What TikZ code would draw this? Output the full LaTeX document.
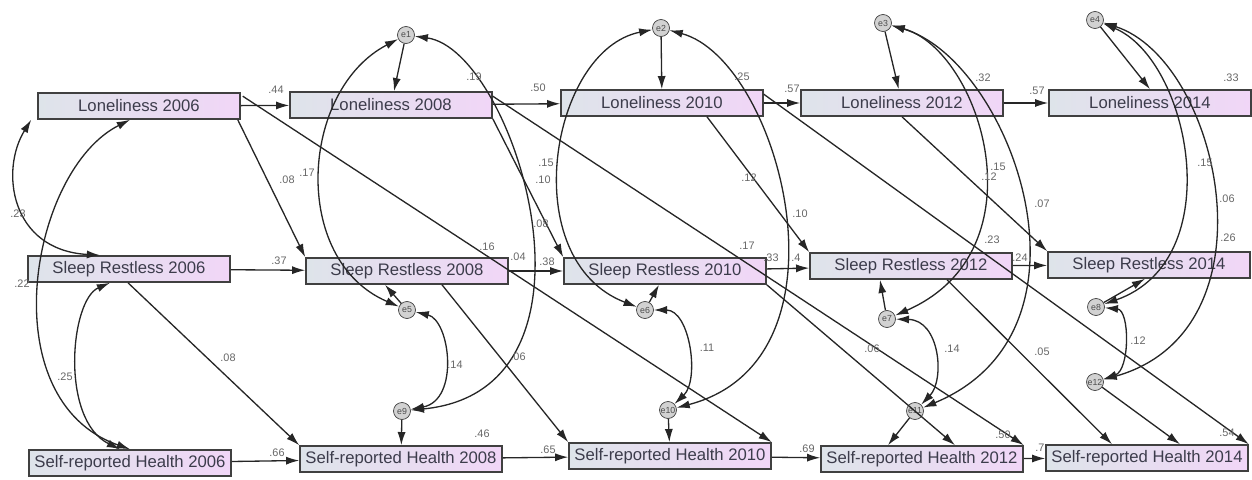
\documentclass[tikz,border=0pt]{standalone}
\usepackage{fontspec}
\setmainfont{Liberation Sans}
\usetikzlibrary{arrows.meta,calc}

\definecolor{boxL}{RGB}{222,228,234}
\definecolor{boxR}{RGB}{241,214,247}
\definecolor{txt}{RGB}{60,60,75}

\tikzset{
  var/.style={draw=black!75, line width=0.9pt, left color=boxL, right color=boxR,
    minimum width=4.04cm, minimum height=0.52cm, inner sep=0pt, text=txt,
    font=\fontsize{9.5}{11}\selectfont},
  err/.style={circle, draw=black!75, fill=gray!35, minimum size=0.34cm, inner sep=0pt,
    font=\fontsize{5}{5}\selectfont, text=black!70},
  reg/.style={-{Latex[length=7.5pt,width=4.6pt]}, line width=0.75pt, draw=black!85},
  cov/.style={{Latex[length=7.5pt,width=4.6pt]}-{Latex[length=7.5pt,width=4.6pt]}, line width=0.75pt, draw=black!85},
  est/.style={font=\fontsize{6.2}{7}\selectfont, text=black!60, inner sep=0pt}
}

\begin{document}
\begin{tikzpicture}[x=0.02cm,y=-0.02cm]
\useasboundingbox (0,0) rectangle (1252,480);

% observed variables
\node[var] (L06) at (139,106) {Loneliness 2006};
\node[var] (L08) at (391,105) {Loneliness 2008};
\node[var] (L10) at (662,103) {Loneliness 2010};
\node[var] (L12) at (902,103) {Loneliness 2012};
\node[var] (L14) at (1150,103) {Loneliness 2014};
\node[var] (S06) at (129,269) {Sleep Restless 2006};
\node[var] (S08) at (407,271) {Sleep Restless 2008};
\node[var] (S10) at (665,271) {Sleep Restless 2010};
\node[var] (S12) at (911,266) {Sleep Restless 2012};
\node[var] (S14) at (1149,265) {Sleep Restless 2014};
\node[var] (H06) at (130,463) {Self-reported Health 2006};
\node[var] (H08) at (401,459) {Self-reported Health 2008};
\node[var] (H10) at (670,456) {Self-reported Health 2010};
\node[var] (H12) at (922,459) {Self-reported Health 2012};
\node[var] (H14) at (1147,458) {Self-reported Health 2014};

% error terms
\node[err] (e1) at (406,35) {e1};
\node[err] (e2) at (661,28) {e2};
\node[err] (e3) at (883,23) {e3};
\node[err] (e4) at (1095,20) {e4};
\node[err] (e5) at (407,310) {e5};
\node[err] (e6) at (645,310) {e6};
\node[err] (e7) at (887,319) {e7};
\node[err] (e8) at (1096,307) {e8};
\node[err] (e9) at (402,411) {e9};
\node[err] (e10) at (668,410) {e10};
\node[err] (e11) at (915,411) {e11};
\node[err] (e12) at (1095,382) {e12};

% stability paths
\draw[reg] (L06) -- (L08);
\draw[reg] (L08) -- (L10);
\draw[reg] (L10) -- (L12);
\draw[reg] (L12) -- (L14);
\draw[reg] (S06) -- (S08);
\draw[reg] (S08) -- (S10);
\draw[reg] (S10) -- (S12);
\draw[reg] (S12) -- (S14);
\draw[reg] (H06) -- (H08);
\draw[reg] (H08) -- (H10);
\draw[reg] (H10) -- (H12);
\draw[reg] (H12) -- (H14);

% errors to variables
\draw[reg] (e1) -- (L08);
\draw[reg] (e2) -- (L10);
\draw[reg] (e3) -- (L12);
\draw[reg] (e4) -- (L14.north);
\draw[reg] (e5) -- ($(S08.south)+(-22,0)$);
\draw[reg] (e6) -- ($(S10.south)+(-6,0)$);
\draw[reg] (e7) -- ($(S12.south)+(-31,0)$);
\draw[reg] (e8) -- ($(S14.south)+(-4,0)$);
\draw[reg] (e9) -- (H08);
\draw[reg] (e10) -- (H10);
\draw[reg] (e11) -- ($(H12.north)+(-34,0)$);
\draw[reg] (e12) -- ($(H14.north)+(33,0)$);

% cross-lagged paths
\draw[reg] ($(L06.south east)+(-3,0)$) -- (S08.north west);
\draw[reg] ($(L06.north east)+(2,4)$) -- (H10.north east);
\draw[reg] (L08.south east) -- (S10.north west);
\draw[reg] ($(L08.north east)+(0,5)$) -- (H12.north east);
\draw[reg] ($(L10.south)+(45,0)$) -- (S12.north west);
\draw[reg] ($(L10.north east)+(0,5)$) -- (H14.north east);
\draw[reg] (L12.south) -- (S14.north west);
\draw[reg] ($(S06.south)+(-1,0)$) -- (H08.north west);
\draw[reg] ($(S08.south)+(35,0)$) -- (H10.north west);
\draw[reg] (S10.south east) -- ($(H12.north)+(33,0)$);
\draw[reg] ($(S12.south)+(36,0)$) -- ($(H14.north)+(-35,0)$);

% covariances
\draw[cov] ($(L06.south west)+(-6,0)$) .. controls (0,170) and (10,250) .. ($(S06.north)+(-29,0)$);
\draw[cov] ($(L06.south)+(-9,0)$) .. controls (30,170) and (-10,400) .. (H06.north);
\draw[cov] ($(S06.south)+(-19,0)$) .. controls (70,300) and (60,420) .. ($(H06.north)+(-10,0)$);
\draw[cov] (e1) .. controls (300,90) and (290,260) .. (e5);
\draw[cov] (e1) .. controls (515,50) and (620,390) .. (e9);
\draw[cov] (e5) .. controls (450,320) and (460,400) .. (e9);
\draw[cov] (e2) .. controls (550,50) and (515,260) .. (e6);
\draw[cov] (e2) .. controls (780,60) and (860,360) .. (e10);
\draw[cov] (e6) .. controls (690,310) and (700,380) .. (e10);
\draw[cov] (e3) .. controls (980,50) and (1045,250) .. (e7);
\draw[cov] (e3) .. controls (1010,60) and (1110,330) .. (e11);
\draw[cov] (e7) .. controls (940,320) and (945,380) .. (e11);
\draw[cov] (e4) .. controls (1190,60) and (1230,260) .. (e8);
\draw[cov] (e4) .. controls (1220,60) and (1280,330) .. (e12);
\draw[cov] (e8) .. controls (1130,310) and (1130,370) .. (e12);

% estimates
\foreach \x/\y/\t [count=\i] in {276/90/.44, 538/88/.50, 792/89/.57, 1037/91/.57,
    1231/78/.33, 983/78/.32, 742/77/.25, 474/77/.19, 18/214/.23, 287/180/.08,
    307/173/.17, 546/163/.15, 543/180/.10, 541/224/.08, 749/178/.12, 800/214/.10,
    487/247/.16, 518/257/.04, 279/261/.37, 547/262/.38, 747/246/.17, 771/258/.33,
    796/258/.4, 992/240/.23, 1020/258/.24, 1228/238/.26, 1227/199/.06, 1205/163/.15,
    1042/204/.07, 998/167/.15, 989/177/.12, 22/284/.22, 65/377/.25, 228/358/.08,
    277/453/.66, 482/434/.46, 548/450/.65, 455/365/.14, 518/357/.06, 707/348/.11,
    807/449/.69, 872/349/.06, 952/349/.14, 1042/352/.05, 1138/341/.12, 1003/435/.50,
    1040/448/.7, 1227/433/.54}
  \node[est] (v\i) at (\x,\y) {\t};
\end{tikzpicture}
\end{document}
